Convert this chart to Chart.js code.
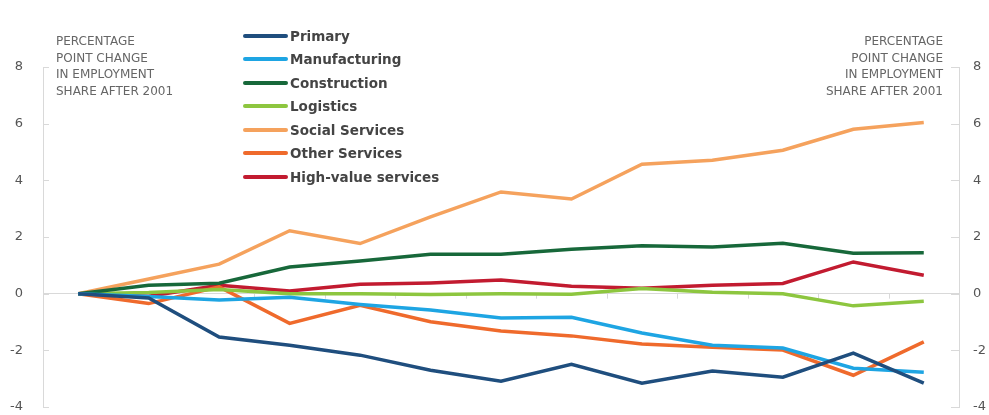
<!DOCTYPE html>
<html>
<head>
<meta charset="utf-8">
<script src="https://cdn.jsdelivr.net/npm/chart.js@4.4.0/dist/chart.umd.min.js"></script>
<style>
  html, body { margin: 0; padding: 0; background: #fff; }
  #wrap { position: relative; width: 989px; height: 415px; overflow: hidden; }
  #lineChart { display: block; }
  .axisTitle { position: absolute; top: 33px; font: 12px "DejaVu Sans", sans-serif; color: #666; line-height: 16.7px; }
  #legend { position: absolute; left: 243px; top: 24px; font: bold 13.5px "DejaVu Sans", sans-serif; color: #444; }
  .item { height: 23.5px; display: flex; align-items: center; }
  .swatch { width: 45px; height: 4px; border-radius: 2px; margin-right: 2px; }
</style>
</head>
<body>
<div id="wrap">
  <canvas id="lineChart" width="989" height="415"></canvas>
  <div class="axisTitle" style="left:56px">PERCENTAGE<br>POINT CHANGE<br>IN EMPLOYMENT<br>SHARE AFTER 2001</div>
  <div class="axisTitle" style="right:46px;text-align:right">PERCENTAGE<br>POINT CHANGE<br>IN EMPLOYMENT<br>SHARE AFTER 2001</div>
  <div id="legend"></div>
</div>
<script>
// Năm (trục x)
var years = ['2001', '2002', '2003', '2004', '2005', '2006', '2007', '2008', '2009', '2010', '2011', '2012', '2013'];

// Thay đổi tỷ trọng việc làm (điểm phần trăm) theo ngành
var primary = [0, -0.15, -1.53, -1.82, -2.17, -2.7, -3.09, -2.49, -3.16, -2.73, -2.95, -2.1, -3.16];
var manufacturing = [0, -0.1, -0.22, -0.13, -0.38, -0.58, -0.86, -0.83, -1.39, -1.82, -1.92, -2.63, -2.77];
var construction = [0, 0.3, 0.37, 0.94, 1.15, 1.39, 1.39, 1.57, 1.69, 1.65, 1.78, 1.43, 1.44];
var logistics = [0, 0.04, 0.15, 0, 0, -0.03, 0, -0.02, 0.18, 0.05, 0, -0.43, -0.27];
var socialServices = [0, 0.52, 1.04, 2.22, 1.77, 2.71, 3.59, 3.34, 4.57, 4.71, 5.06, 5.8, 6.04];
var otherServices = [0, -0.35, 0.24, -1.05, -0.41, -0.99, -1.32, -1.49, -1.78, -1.89, -1.99, -2.88, -1.7];
var highValue = [0, -0.09, 0.3, 0.09, 0.33, 0.38, 0.48, 0.26, 0.19, 0.3, 0.36, 1.12, 0.65];

var yTicks = [-4, -2, 0, 2, 4, 6, 8];

var series = [
    { label: 'Primary', data: primary, color: '#1f4e7e' },
    { label: 'Manufacturing', data: manufacturing, color: '#1ea5e3' },
    { label: 'Construction', data: construction, color: '#17683a' },
    { label: 'Logistics', data: logistics, color: '#8dc63f' },
    { label: 'Social Services', data: socialServices, color: '#f5a25d' },
    { label: 'Other Services', data: otherServices, color: '#ef6a2c' },
    { label: 'High-value services', data: highValue, color: '#c21b30' }
];

// Chú thích dạng HTML
var legend = document.getElementById('legend');
series.forEach(function(s) {
    var row = document.createElement('div');
    row.className = 'item';
    row.innerHTML = '<span class="swatch" style="background:' + s.color + '"></span>' + s.label;
    legend.appendChild(row);
});

// Vạch chia nhỏ hướng vào trong và vạch trên đường 0
var axisMarks = {
    id: 'axisMarks',
    beforeDatasetsDraw: function(chart) {
        var ctx = chart.ctx, a = chart.chartArea;
        var y = chart.scales.y, x = chart.scales.x;
        ctx.save();
        ctx.strokeStyle = '#d9d9d9';
        ctx.lineWidth = 1;
        ctx.beginPath();
        yTicks.forEach(function(v) {
            var py = Math.round(y.getPixelForValue(v)) + 0.5;
            ctx.moveTo(a.left, py); ctx.lineTo(a.left + 6, py);
            ctx.moveTo(a.right - 8, py); ctx.lineTo(a.right, py);
        });
        var y0 = y.getPixelForValue(0);
        for (var i = 0; i < years.length - 1; i++) {
            var px = Math.round((x.getPixelForValue(i) + x.getPixelForValue(i + 1)) / 2) + 0.5;
            ctx.moveTo(px, y0); ctx.lineTo(px, y0 + 5);
        }
        ctx.stroke();
        ctx.restore();
    }
};

// Cố định độ rộng trục y, bỏ khoảng đệm trên/dưới của nhãn
function fixAxis(w) {
    return function(s) { s.width = w; s.paddingTop = 0; s.paddingBottom = 0; };
}

var ctx = document.getElementById('lineChart').getContext('2d');
var myChart = new Chart(ctx, {
    type: 'line',
    data: {
        labels: years,
        datasets: series.map(function(s) {
            return {
                label: s.label,
                data: s.data,
                borderColor: s.color,
                backgroundColor: s.color,
                borderWidth: 3.5,
                pointRadius: 0,
                tension: 0
            };
        })
    },
    options: {
        responsive: false,
        animation: false,
        layout: { padding: { top: 67, bottom: 8, left: 0, right: 0 } },
        plugins: { legend: { display: false }, tooltip: { enabled: false } },
        scales: {
            x: { display: false, offset: true },
            y: {
                position: 'left',
                min: -4, max: 8,
                afterFit: fixAxis(43),
                afterBuildTicks: function(s) { s.ticks = yTicks.map(function(v) { return { value: v }; }); },
                border: { color: '#d9d9d9' },
                grid: {
                    drawTicks: false,
                    color: function(c) { return c.tick && c.tick.value === 0 ? '#d9d9d9' : 'rgba(0,0,0,0)'; }
                },
                ticks: { padding: 20, color: '#555', font: { family: 'DejaVu Sans', size: 13 } }
            },
            y2: {
                position: 'right',
                min: -4, max: 8,
                afterFit: fixAxis(30),
                afterBuildTicks: function(s) { s.ticks = yTicks.map(function(v) { return { value: v }; }); },
                border: { color: '#d9d9d9' },
                grid: { display: true, drawOnChartArea: false, drawTicks: false },
                ticks: { padding: 14, color: '#555', font: { family: 'DejaVu Sans', size: 13 } }
            }
        }
    },
    plugins: [axisMarks]
});
</script>
</body>
</html>
